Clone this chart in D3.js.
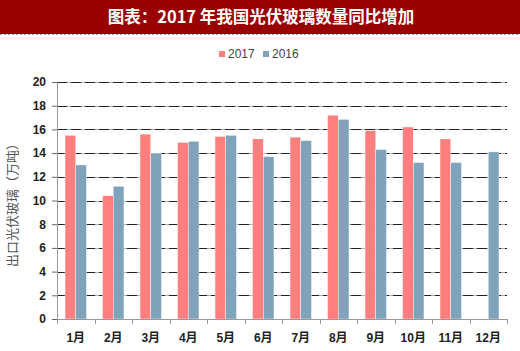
<!DOCTYPE html>
<html>
<head>
<meta charset="utf-8">
<script src="https://cdn.jsdelivr.net/npm/d3@7"></script>
<style>
  body { margin: 0; background: #fff; }
  svg { display: block; }
</style>
</head>
<body>
<div id="chart"></div>
<script>
// 出口光伏玻璃 月度对比
const months = ["1月","2月","3月","4月","5月","6月","7月","8月","9月","10月","11月","12月"];
const series = ["2017", "2016"];
const v2017 = [15.5, 10.4, 15.6, 14.9, 15.4, 15.2, 15.35, 17.2, 15.9, 16.2, 15.2, null];
const v2016 = [13.0, 11.2, 14.0, 15.0, 15.5, 13.7, 15.05, 16.85, 14.3, 13.2, 13.2, 14.1];
const yTicks = [0, 2, 4, 6, 8, 10, 12, 14, 16, 18, 20];

const width = 520;
const height = 351;
const margin = { top: 82, right: 13, bottom: 32, left: 57 };
const colors = { "2017": "#ff7f7f", "2016": "#7fa3bb" };

const data = months.map((m, i) => ({ month: m, "2017": v2017[i], "2016": v2016[i] }));

const svg = d3.select("#chart")
    .append("svg")
    .attr("width", width)
    .attr("height", height);

// 标题栏
svg.append("rect")
    .attr("x", 0).attr("y", 0)
    .attr("width", width).attr("height", 34)
    .attr("fill", "#990000");
svg.append("line")
    .attr("x1", 0).attr("x2", width)
    .attr("y1", 34.5).attr("y2", 34.5)
    .attr("stroke", "#9a9ad0")
    .attr("stroke-dasharray", "2,2");
svg.append("text")
    .attr("x", 261)
    .attr("y", 22.5)
    .attr("text-anchor", "middle")
    .attr("fill", "#fff")
    .style("font-family", "'Noto Sans CJK SC', sans-serif")
    .style("font-size", "16.5px")
    .style("font-weight", "bold")
    .text("图表：2017 年我国光伏玻璃数量同比增加");

const x = d3.scaleBand()
    .domain(months)
    .range([margin.left, width - margin.right]);

const xs = d3.scaleBand()
    .domain(series)
    .range([0, x.bandwidth()])
    .paddingOuter(0.75)
    .paddingInner(0);

const y = d3.scaleLinear()
    .domain([0, 20])
    .range([height - margin.bottom, margin.top]);

// 网格线
const grid = svg.append("g");
grid.selectAll(".g1")
    .data(yTicks.filter(d => d > 0))
    .enter().append("line")
    .attr("x1", margin.left).attr("x2", width - margin.right)
    .attr("y1", d => Math.round(y(d)) + 0.5).attr("y2", d => Math.round(y(d)) + 0.5)
    .attr("stroke", "#aaa");
grid.selectAll(".g2")
    .data(yTicks.filter(d => d > 0))
    .enter().append("line")
    .attr("x1", margin.left).attr("x2", width - margin.right)
    .attr("y1", d => Math.round(y(d)) + 0.5).attr("y2", d => Math.round(y(d)) + 0.5)
    .attr("stroke", "#222")
    .attr("stroke-dasharray", "10,4");

// 柱子
const groups = svg.selectAll(".grp")
    .data(data)
    .enter().append("g")
    .attr("transform", d => `translate(${x(d.month)},0)`);

groups.selectAll("rect")
    .data(d => series.filter(s => d[s] != null).map(s => ({ key: s, value: d[s] })))
    .enter().append("rect")
    .attr("x", d => xs(d.key))
    .attr("y", d => y(d.value))
    .attr("width", xs.bandwidth())
    .attr("height", d => y(0) - y(d.value))
    .attr("fill", d => colors[d.key])
    .attr("stroke", "#fff")
    .attr("stroke-width", 0.4);

// 坐标轴
const yAxis = svg.append("g")
    .attr("transform", `translate(${margin.left},0)`)
    .call(d3.axisLeft(y).tickValues(yTicks).tickSize(5).tickPadding(6));
yAxis.select(".domain").attr("stroke", "#999");
yAxis.selectAll(".tick line").attr("stroke", "#666");
yAxis.selectAll("text")
    .attr("fill", "#222")
    .style("font-family", "'Liberation Sans', Arial, sans-serif")
    .style("font-size", "12px")
    .style("font-weight", "bold");

const xAxis = svg.append("g")
    .attr("transform", `translate(0,${height - margin.bottom})`)
    .call(d3.axisBottom(x).tickSize(0).tickPadding(14));
xAxis.select(".domain").attr("stroke", "#999");
xAxis.selectAll("text")
    .attr("fill", "#222")
    .style("font-family", "'Liberation Sans', 'Noto Sans CJK SC', sans-serif")
    .style("font-size", "12px")
    .style("font-weight", "bold");
xAxis.selectAll(".sep")
    .data(months.concat([null]))
    .enter().append("line")
    .attr("x1", (d, i) => Math.round(margin.left + i * x.step()) + 0.5)
    .attr("x2", (d, i) => Math.round(margin.left + i * x.step()) + 0.5)
    .attr("y1", 0).attr("y2", 5)
    .attr("stroke", "#999");

// 纵轴标题
svg.append("text")
    .attr("transform", `translate(17,202) rotate(-90)`)
    .attr("text-anchor", "middle")
    .attr("fill", "#555")
    .style("font-family", "'Noto Sans CJK SC', sans-serif")
    .style("font-size", "13px")
    .text("出口光伏玻璃（万吨）");

// 图例
const legend = svg.append("g").attr("transform", "translate(219,55)");
const legendX = [0, 44];
series.forEach((s, i) => {
    legend.append("rect")
        .attr("x", legendX[i]).attr("y", -4)
        .attr("width", 6).attr("height", 6)
        .attr("fill", colors[s]);
    legend.append("text")
        .attr("x", legendX[i] + 9).attr("y", 3)
        .attr("fill", "#444")
        .style("font-family", "'Liberation Sans', Arial, sans-serif")
        .style("font-size", "12px")
        .text(s);
});
</script>
</body>
</html>
